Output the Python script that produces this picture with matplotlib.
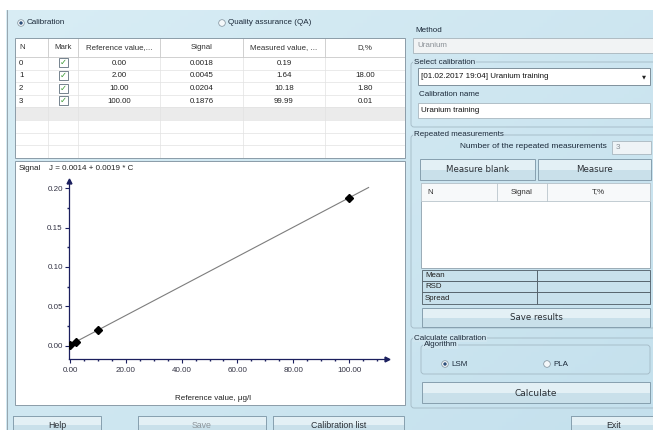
import matplotlib
matplotlib.use("Agg")
import matplotlib.pyplot as plt
from matplotlib.patches import Rectangle, FancyBboxPatch, Circle
import numpy as np

plt.rcParams["font.family"] = ["Liberation Sans", "DejaVu Sans"]

# calibration points (table + chart)
point_n = [0, 1, 2, 3]
ref_values = [0.00, 2.00, 10.00, 100.00]
signal_values = [0.0018, 0.0045, 0.0204, 0.1876]
measured_values = [0.19, 1.64, 10.18, 99.99]
deviation_pct = [None, 18.00, 1.80, 0.01]

table_headers = ["N", "Mark", "Reference value,...", "Signal", "Measured value, ...", "D,%"]
x_ticks = [0, 20, 40, 60, 80, 100]
y_ticks = [0.00, 0.05, 0.10, 0.15, 0.20]
fit_range = [0, 107]

W, H = 653, 430
BG = "#cfe5ef"
TEXT = "#1c2a3a"
NAVY = "#1b1f5e"
BORDER = "#8b9ca8"


def rect(ax, x0, y0, x1, y1, fc, ec="none", lw=0.6, z=2):
    ax.add_patch(Rectangle((x0, y0), x1 - x0, y1 - y0, facecolor=fc,
                           edgecolor=ec, linewidth=lw, zorder=z))


def label(ax, x, y, s, size=5.8, color=TEXT, ha="left", **kw):
    ax.text(x, y, s, fontsize=size, color=color, ha=ha, va="center", zorder=5, **kw)


def button(ax, x0, y0, x1, y1, text, enabled=True, size=6.2, family="DejaVu Sans"):
    ym = (y0 + y1) / 2
    rect(ax, x0, y0, x1, ym, "#e3f0f5")
    rect(ax, x0, ym, x1, y1, "#c9e0ea")
    rect(ax, x0, y0, x1, y1, "none", "#869fae", lw=0.7, z=3)
    label(ax, (x0 + x1) / 2, ym + 0.5, text, size,
          color="#2a2f35" if enabled else "#8d959b", ha="center", family=family)


def group_box(ax, x0, y0, x1, y1, title):
    ax.add_patch(FancyBboxPatch((x0, y0), x1 - x0, y1 - y0,
                                boxstyle="round,pad=0,rounding_size=3",
                                fc="none", ec="#a3b9c5", lw=0.6, zorder=2))
    ax.text(x0 + 3, y0, title, fontsize=5.8, color=TEXT, va="center", zorder=5,
            bbox=dict(fc=BG, ec="none", pad=0.4))


def radio(ax, x, y, checked):
    ax.add_patch(Circle((x, y), 3.3, fc="#f4f8fa", ec="#7f8f9a", lw=0.5, zorder=4))
    if checked:
        ax.add_patch(Circle((x, y), 1.7, fc="#2c4f7a", ec="none", zorder=5))


fig = plt.figure(figsize=(W / 100, H / 100), dpi=100)
bg = fig.add_axes([0, 0, 1, 1])
bg.set_xlim(0, W)
bg.set_ylim(H, 0)
bg.axis("off")

# window background, soft gradient
gx, gy = np.meshgrid(np.linspace(0, 1, 160), np.linspace(0, 1, 110))
t = (0.55 * gx + 0.45 * gy)[..., None]
img = np.array([0.85, 0.93, 0.96]) * (1 - t) + np.array([0.77, 0.88, 0.93]) * t
bg.imshow(img, extent=(0, W, H, 0), aspect="auto", zorder=0)
rect(bg, 0, 0, W, 10, "white", z=1)
rect(bg, 0, 0, 6, H, "white", z=1)
bg.plot([6.5, 6.5], [10, H], color="#8d9aa3", lw=0.6, zorder=1)

# ---- left: calibration table ----
radio(bg, 21, 23, True)
label(bg, 27, 23, "Calibration")
radio(bg, 222, 23, False)
label(bg, 228, 23, "Quality assurance (QA)")

col_edges = [15, 48, 78, 160, 243, 325, 405]
ty0, thead, row_h, n_rows = 38, 57, 12.6, 8
ty1 = thead + row_h * n_rows
rect(bg, col_edges[0], ty0, col_edges[-1], ty1, "white")
rect(bg, col_edges[0], thead + row_h * 4, col_edges[-1], thead + row_h * 5, "#ebebeb")
for i in range(1, n_rows):
    bg.plot([col_edges[0], col_edges[-1]], [thead + row_h * i] * 2, color="#e2e2e2", lw=0.5, zorder=3)
for xe in col_edges[1:-1]:
    bg.plot([xe, xe], [ty0, thead], color="#c9c9c9", lw=0.6, zorder=3)
    bg.plot([xe, xe], [thead, ty1], color="#e2e2e2", lw=0.5, zorder=3)
bg.plot([col_edges[0], col_edges[-1]], [thead, thead], color="#c9c9c9", lw=0.6, zorder=3)
rect(bg, col_edges[0], ty0, col_edges[-1], ty1, "none", BORDER, lw=0.7, z=4)

centers = [(a + b) / 2 for a, b in zip(col_edges[:-1], col_edges[1:])]
for j, h in enumerate(table_headers):
    if j == 0:
        label(bg, 19, (ty0 + thead) / 2, h, 5.7, color="#333")
    else:
        label(bg, centers[j], (ty0 + thead) / 2, h, 5.7, color="#333", ha="center")

for i, n in enumerate(point_n):
    yc = thead + row_h * (i + 0.5)
    label(bg, 19, yc, str(n), 5.7, color="#222")
    rect(bg, centers[1] - 4.5, yc - 5, centers[1] + 4.5, yc + 4, "white", "#5f6f7c", lw=0.6, z=4)
    bg.text(centers[1], yc - 0.5, "\u2713", fontsize=6, color="#3c9a35", ha="center",
            va="center", family="DejaVu Sans", zorder=5)
    label(bg, centers[2], yc, f"{ref_values[i]:.2f}", 5.7, color="#222", ha="center")
    label(bg, centers[3], yc, f"{signal_values[i]:.4f}", 5.7, color="#222", ha="center")
    label(bg, centers[4], yc, f"{measured_values[i]:.2f}", 5.7, color="#222", ha="center")
    if deviation_pct[i] is not None:
        label(bg, centers[5], yc, f"{deviation_pct[i]:.2f}", 5.7, color="#222", ha="center")

# ---- left: chart panel ----
rect(bg, 15, 161, 405, 405, "white", BORDER, lw=0.7)
slope, intercept = np.polyfit(ref_values, signal_values, 1)
label(bg, 19, 169, "Signal", 5.8, color="#222")
label(bg, 49, 169, f"J = {intercept:.4f} + {slope:.4f} * C", 5.8, color="#222")
label(bg, 213, 398, "Reference value, \u03bcg/l", 5.8, color="#222", ha="center")

ax = fig.add_axes([69 / W, 1 - 359 / H, (387 - 69) / W, (359 - 181) / H])
ax.set_facecolor("none")
ax.set_zorder(10)
xf = np.array(fit_range)
ax.plot(xf, intercept + slope * xf, color="#7d7d7d", lw=0.8, zorder=2)
ax.plot(ref_values, signal_values, "D", color="black", ms=4.2, zorder=3)
ax.set_xlim(-0.36, 113.6)
ax.set_ylim(-0.0165, 0.2089)
ax.set_xticks(x_ticks, [f"{v:.2f}" for v in x_ticks])
ax.set_yticks(y_ticks, [f"{v:.2f}" for v in y_ticks])
ax.set_xticks(np.arange(5, 113, 5), minor=True)
ax.set_yticks([0.025, 0.075, 0.125, 0.175], minor=True)
for s in ["top", "right"]:
    ax.spines[s].set_visible(False)
for s in ["left", "bottom"]:
    ax.spines[s].set_color(NAVY)
    ax.spines[s].set_linewidth(0.9)
ax.tick_params(which="major", direction="out", length=3, width=0.8, color=NAVY,
               labelsize=5.8, labelcolor="#333344")
ax.tick_params(axis="x", which="major", pad=3)
ax.tick_params(axis="y", which="major", pad=1.5)
ax.tick_params(which="minor", direction="out", length=1.5, width=1, color=NAVY)
ax.plot([0], [1], marker="^", ms=3.5, color=NAVY, transform=ax.transAxes, clip_on=False)
ax.plot([1], [0], marker=">", ms=3.5, color=NAVY, transform=ax.transAxes, clip_on=False)

# ---- right panel ----
label(bg, 415, 30, "Method")
rect(bg, 413, 38, 655, 53, "#f1f3f4", "#a7b4bc", lw=0.6)
label(bg, 417, 45.5, "Uranium", color="#8a9096")

group_box(bg, 411, 62, 656, 127, "Select calibration")
rect(bg, 418, 68, 650, 85, "white", "#7f909c", lw=0.7)
label(bg, 421, 76.5, "[01.02.2017 19:04] Uranium training", color="#111")
bg.text(644, 76.5, "\u25bc", fontsize=3.8, color="#222", ha="center", va="center",
        family="DejaVu Sans", zorder=5)
label(bg, 419, 94, "Calibration name")
rect(bg, 418, 103, 650, 118, "white", "#a9b7bf", lw=0.6)
label(bg, 421, 110.5, "Uranium training", color="#111")

group_box(bg, 411, 135, 656, 328, "Repeated measurements")
label(bg, 607, 147, "Number of the repeated measurements", 6, ha="right")
rect(bg, 612, 141, 651, 154, "#eef3f6", "#a9b7bf", lw=0.6)
label(bg, 616, 147.5, "3", color="#8a9096")
button(bg, 420, 159, 535, 180, "Measure blank")
button(bg, 538, 159, 651, 180, "Measure")

rect(bg, 421, 183, 650, 268, "white", "#9aabb6", lw=0.7)
rect(bg, 421, 183, 650, 201, "#f7f9fa", "#b9c5cc", lw=0.6)
for xe in [497, 547]:
    bg.plot([xe, xe], [183, 201], color="#b9c5cc", lw=0.6, zorder=3)
label(bg, 427, 192, "N", 5.7, color="#333")
label(bg, 522, 192, "Signal", 5.7, color="#333", ha="center")
label(bg, 598, 192, "T,%", 5.7, color="#333", ha="center")

stat_rows = ["Mean", "RSD", "Spread"]
sy = [270, 281, 292, 304]
for k, name in enumerate(stat_rows):
    rect(bg, 422, sy[k], 537, sy[k + 1], "#c8e1ec", "#4e5b64", lw=0.6)
    rect(bg, 537, sy[k], 650, sy[k + 1], "#c8e1ec", "#4e5b64", lw=0.6)
    label(bg, 425, (sy[k] + sy[k + 1]) / 2, name, 5.7, color="#222")
button(bg, 422, 308, 650, 327, "Save results")

group_box(bg, 411, 338, 656, 408, "Calculate calibration")
group_box(bg, 421, 345, 650, 374, "Algorithm")
radio(bg, 445, 364, True)
label(bg, 451, 364, "LSM")
radio(bg, 547, 364, False)
label(bg, 553, 364, "PLA")
button(bg, 422, 382, 650, 403, "Calculate", size=6.5)

# ---- bottom buttons ----
button(bg, 13, 416, 101, 434, "Help", size=6.3, family="Liberation Sans")
button(bg, 138, 416, 266, 434, "Save", enabled=False, size=6.3, family="Liberation Sans")
button(bg, 273, 416, 404, 434, "Calibration list", size=6.3, family="Liberation Sans")
button(bg, 571, 416, 656, 434, "Exit", size=6.3, family="Liberation Sans")

fig.savefig("out.png", dpi=100)
